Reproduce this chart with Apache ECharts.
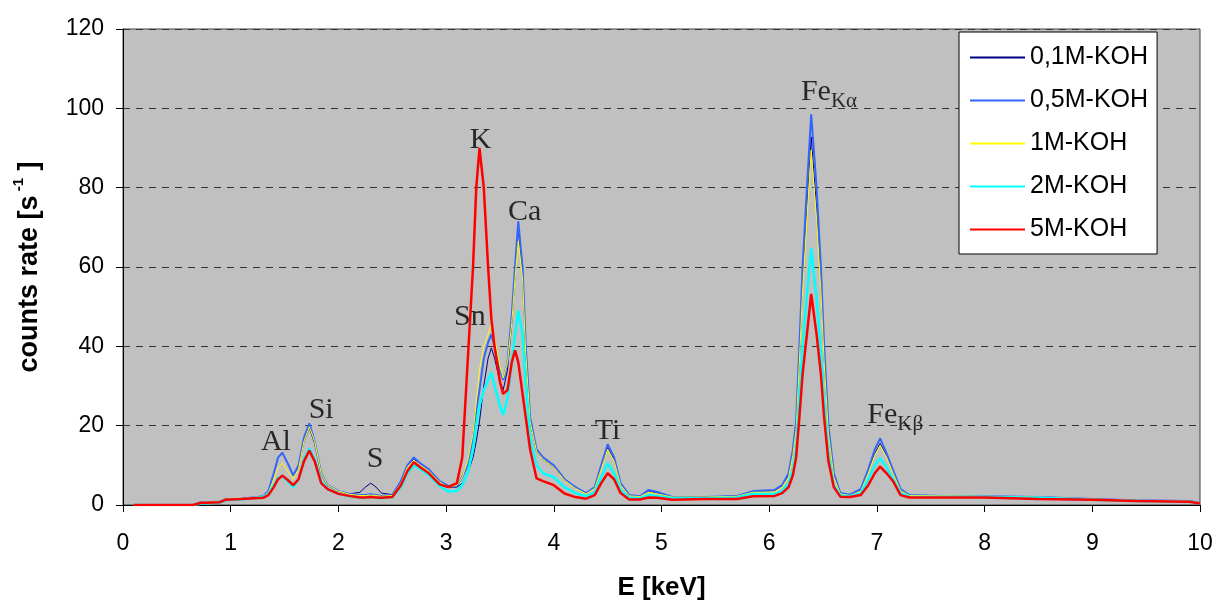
<!DOCTYPE html>
<html>
<head>
<meta charset="utf-8">
<script src="https://cdn.jsdelivr.net/npm/echarts@6/dist/echarts.min.js"></script>
<style>
  html, body { margin: 0; padding: 0; background: #fff; }
  #main { width: 1217px; height: 606px; }
</style>
</head>
<body>
<div id="main"></div>
<script>
// energy axis [keV], shared by all spectra
var energy = [0.10,0.65,0.72,0.90,0.95,1.10,1.30,1.35,1.40,1.44,
  1.48,1.53,1.58,1.63,1.68,1.73,1.78,1.84,1.90,2.00,
  2.10,2.20,2.25,2.30,2.35,2.40,2.50,2.58,2.64,2.70,
  2.76,2.84,2.94,3.02,3.10,3.15,3.20,3.25,3.28,3.31,
  3.35,3.39,3.42,3.45,3.50,3.53,3.57,3.61,3.64,3.67,
  3.71,3.74,3.78,3.84,3.90,4.00,4.10,4.20,4.30,4.38,
  4.44,4.50,4.56,4.62,4.70,4.80,4.88,4.96,5.10,5.40,
  5.70,5.85,6.05,6.12,6.18,6.22,6.25,6.28,6.31,6.35,
  6.39,6.44,6.48,6.51,6.55,6.60,6.66,6.75,6.85,6.92,
  6.98,7.03,7.09,7.15,7.22,7.30,7.60,8.00,8.50,9.00,
  9.40,9.90,10.00];

// counts rate [1/s]
var koh01 = [0,0,0.7,0.8,1.5,1.6,2.2,3.5,8,12,
  13,10.5,7.5,9.5,16,19.5,15.5,8,5,3.5,
  2.8,3.2,4.5,5.5,4.5,3,2.6,6,10,11.5,
  10.5,9,6,4.5,4.5,5.5,8,12,16,21,
  30,37,39.6,37,31,29,34,46,58,69.5,
  59,39,21,13.5,11.5,9.5,6.3,4.3,3,4.3,
  9.5,14.5,11.5,5.3,2.4,2.2,3.5,3,2,2,
  2.3,3.3,3.6,4.8,7.5,13,20,37,56,75,
  92.8,75,56,37,19,7.5,3,2.5,3.8,8.5,
  13,15.5,12.5,8.3,3.8,2.4,2.2,2.1,1.9,1.5,
  1.2,1.0,0.5];
var koh05 = [0,0,0.7,0.8,1.5,1.6,2.2,3.5,8,12,
  13.2,10.5,7.5,10,17,20.6,16,8,5,3.5,
  2.8,2.5,2.5,2.7,2.5,2.3,2.5,6,10,12,
  10.5,9,6,4.8,5,7,10,17,24,29,
  37,41,43,40,34,31.5,36,48,60,71.5,
  60,40,22,14,12,10,6.5,4.5,3,4.5,
  10,15.3,12,5.5,2.5,2.2,3.8,3.3,2,2,
  2.3,3.5,3.8,5,8,14,21,40,60,80,
  98.5,80,60,40,20,8,3,2.6,4,9,
  14,16.8,13,8.8,4,2.5,2.3,2.2,2,1.5,
  1.2,1.0,0.5];
var koh1 = [0,0,0.7,0.8,1.5,1.6,2.2,3.2,6.5,9.5,
  10.5,8.5,6.5,9,16,19.7,16,8,5,3.5,
  2.7,2.4,2.4,2.5,2.4,2.2,2.4,5.5,9.5,11.3,
  10,8.5,5.8,4.5,5,7,11,18,26,34,
  40,43,45.5,42,35,32,36,46,57,66.5,
  57,38,21,13.5,11.5,9.5,6.2,4.2,2.8,4.2,
  9,14,11,5,2.3,2.1,3.2,2.8,2,2,
  2.2,3.2,3.3,4.5,7,12.5,19,36,54,72,
  89.5,72,54,36,18,7,2.8,2.4,3.5,8,
  12.5,15,12,8,3.6,2.4,2.3,2.2,2,1.5,
  1.2,1.0,0.5];
var koh2 = [0,0,0.3,0.6,1.2,1.4,2.0,2.8,5,6.8,
  7.2,6,4.5,6.5,11.5,14.3,11.5,6,4,2.8,
  2.2,1.8,1.8,2,1.8,1.7,2,4.5,8,10,
  9,7.5,4.8,3.4,3.5,5,8,14,20,25,
  29,31.5,33.4,30,25,22.7,27,36,43,49,
  43,30,17,10,8,7,4.5,3,2.2,3.2,
  7,10.5,8,3.8,1.8,1.7,2.5,2.3,1.7,1.7,
  1.9,2.8,2.8,3.5,5.5,9,14,27,40,53,
  64.7,52,39,26,13,5,2.4,2.2,3,6.5,
  10,11.8,9.5,6.5,3,2.1,2,2,1.8,1.3,
  1.0,0.8,0.4];
var koh5 = [0,0,0.5,0.7,1.3,1.5,1.8,2.5,4.5,6.5,
  7.4,6.3,5,6.5,11,13.7,11,5.5,4,2.8,
  2.3,1.9,1.9,2,1.9,1.8,2,5,8.5,10.8,
  9.5,8,5.2,4.5,5.5,12,36,60,80,90,
  80,60,47,40,31,28,29,36,39,36,
  28,22,14,6.7,6,5,2.9,2,1.6,2.5,
  5.5,8,6.5,3,1.4,1.4,1.9,1.8,1.3,1.5,
  1.5,2.2,2.3,3,4.5,7.5,12,22,33,43,
  53.2,43,33,22,11,4.5,2.1,2,2.5,5,
  8,9.7,8,6,2.5,1.9,1.9,1.9,1.5,1.3,
  1.0,0.8,0.4];

var seriesNames = ['0,1M-KOH', '0,5M-KOH', '1M-KOH', '2M-KOH', '5M-KOH'];
var seriesValues = [koh01, koh05, koh1, koh2, koh5];
var seriesColors = ['#000080', '#3366ff', '#ffff00', '#00ffff', '#ff0000'];
var seriesWidths = [1, 2, 1, 2.5, 2.5];

// peak annotations: element, subscript, energy, counts (label centre)
var peakText = ['Al', 'Si', 'S', 'K', 'Sn', 'Ca', 'Ti', 'Fe', 'Fe'];
var peakSub = ['', '', '', '', '', '', '', 'Kα', 'Kβ'];
var peakE = [1.42, 1.84, 2.34, 3.32, 3.22, 3.73, 4.50, 6.555, 7.17];
var peakY = [15.4, 23.5, 11.1, 91.5, 46.9, 73.3, 18.2, 103.6, 22.2];

function pairs(vals) {
  return energy.map(function (e, i) { return [e, vals[i]]; });
}

var myChart = echarts.init(document.getElementById('main'));

var series = seriesNames.map(function (name, k) {
  return {
    name: name,
    type: 'line',
    data: pairs(seriesValues[k]),
    symbol: 'none',
    showSymbol: false,
    color: seriesColors[k],
    lineStyle: { color: seriesColors[k], width: seriesWidths[k] },
    animation: false,
    z: 2 + k
  };
});

series.push({
  name: 'peaks',
  type: 'scatter',
  symbolSize: 0,
  silent: true,
  z: 20,
  data: peakText.map(function (t, i) {
    return { value: [peakE[i], peakY[i]], name: t };
  }),
  label: {
    show: true,
    position: 'inside',
    formatter: function (p) {
      var i = p.dataIndex;
      return peakSub[i] ? '{m|' + peakText[i] + '}{s|' + peakSub[i] + '}' : '{m|' + peakText[i] + '}';
    },
    rich: {
      m: { fontFamily: 'Liberation Serif', fontSize: 30, color: '#000', lineHeight: 34, verticalAlign: 'top' },
      s: { fontFamily: 'Liberation Serif', fontSize: 21, color: '#000', lineHeight: 22, padding: [14, 0, 0, 0], verticalAlign: 'top' }
    }
  },
  animation: false
});

var option = {
  backgroundColor: '#ffffff',
  animation: false,
  grid: {
    left: 123, right: 17, top: 29, bottom: 101,
    show: true,
    backgroundColor: '#c0c0c0',
    borderColor: '#404040',
    borderWidth: 1
  },
  legend: {
    data: seriesNames,
    orient: 'vertical',
    left: 959, top: 32,
    padding: [13, 9, 12, 11],
    icon: 'rect',
    itemWidth: 55, itemHeight: 2, itemGap: 18,
    backgroundColor: '#ffffff',
    borderColor: '#000000',
    borderWidth: 1,
    selectedMode: false,
    textStyle: { fontFamily: 'Liberation Sans', fontSize: 25, color: '#000', lineHeight: 25 }
  },
  xAxis: {
    type: 'value',
    min: 0, max: 10, interval: 1,
    name: 'E [keV]',
    nameLocation: 'middle',
    nameGap: 70,
    nameTextStyle: { fontFamily: 'Liberation Sans', fontSize: 26, fontWeight: 'bold', color: '#000' },
    axisLine: { lineStyle: { color: '#000', width: 1 } },
    axisTick: { show: true, inside: false, length: 7, lineStyle: { color: '#000' } },
    axisLabel: { margin: 27, fontFamily: 'Liberation Sans', fontSize: 23, color: '#000' },
    splitLine: { show: false }
  },
  yAxis: {
    type: 'value',
    min: 0, max: 120, interval: 20,
    name: '{a|counts rate [s}{b| -1}{a| ]}',
    nameLocation: 'middle',
    nameRotate: 90,
    nameGap: 80,
    nameTextStyle: {
      rich: {
        a: { fontFamily: 'Liberation Sans', fontSize: 27, fontWeight: 'bold', color: '#000', lineHeight: 32, verticalAlign: 'bottom' },
        b: { fontFamily: 'Liberation Sans', fontSize: 15, fontWeight: 'bold', color: '#000', lineHeight: 32, verticalAlign: 'top' }
      }
    },
    axisLine: { show: true, lineStyle: { color: '#000', width: 1 } },
    axisTick: { show: true, inside: false, length: 7, lineStyle: { color: '#000' } },
    axisLabel: { margin: 19, fontFamily: 'Liberation Sans', fontSize: 23, color: '#000' },
    splitLine: { show: true, lineStyle: { color: '#333333', type: [7, 6], width: 1 } }
  },
  series: series
};

myChart.setOption(option);
</script>
</body>
</html>
